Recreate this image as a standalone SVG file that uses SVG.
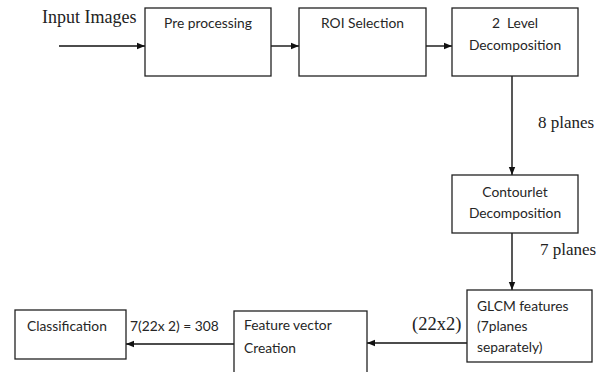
<svg xmlns="http://www.w3.org/2000/svg" width="599" height="372" viewBox="0 0 599 372">
  <defs>
    <marker id="arrow" viewBox="0 0 8 8" refX="8" refY="4" markerWidth="8" markerHeight="8" markerUnits="userSpaceOnUse" orient="auto">
      <path d="M0,0.8 L8,4 L0,7.2 Z" fill="#111"/>
    </marker>
  </defs>
  <style>
    .box { fill: #fff; stroke: #222; stroke-width: 1.3; }
    .lbl { font-family: Lato, "Liberation Sans", sans-serif; font-size: 13.8px; fill: #262626; }
    .mid { text-anchor: middle; }
    .note { font-family: "Liberation Serif", serif; font-size: 17px; fill: #222; }
    .edge { stroke: #111; stroke-width: 1.4; fill: none; marker-end: url(#arrow); }
  </style>
  <rect width="599" height="372" fill="#fff"/>

  <g id="connectors">
    <line class="edge" x1="59" y1="46" x2="145" y2="46"/>
    <line class="edge" x1="271" y1="46" x2="299" y2="46"/>
    <line class="edge" x1="424" y1="46" x2="452" y2="46"/>
    <line class="edge" x1="512" y1="76" x2="512" y2="175"/>
    <line class="edge" x1="512" y1="233" x2="512" y2="290"/>
    <line class="edge" x1="467" y1="343" x2="367" y2="343"/>
    <line class="edge" x1="234" y1="344" x2="126" y2="344"/>
  </g>

  <g id="input-label">
    <text class="note" x="42" y="23" style="font-size:18px">Input Images</text>
  </g>

  <g id="preprocessing">
    <rect class="box" x="145" y="8" width="126" height="68"/>
    <text class="lbl mid" x="208" y="28">Pre processing</text>
  </g>

  <g id="roi-selection">
    <rect class="box" x="299" y="8" width="127" height="68"/>
    <text class="lbl mid" x="362.5" y="28">ROI Selection</text>
  </g>

  <g id="level-decomposition">
    <rect class="box" x="452" y="8" width="126" height="68"/>
    <text class="lbl mid" x="515" y="28" xml:space="preserve">2  Level</text>
    <text class="lbl mid" x="515" y="50">Decomposition</text>
  </g>

  <g id="planes-8">
    <text class="note" x="538" y="128">8 planes</text>
  </g>

  <g id="contourlet">
    <rect class="box" x="452" y="175" width="126" height="58"/>
    <text class="lbl mid" x="515" y="197">Contourlet</text>
    <text class="lbl mid" x="515" y="218">Decomposition</text>
  </g>

  <g id="planes-7">
    <text class="note" x="540" y="255">7 planes</text>
  </g>

  <g id="glcm">
    <rect class="box" x="467" y="290" width="125" height="72"/>
    <text class="lbl" x="477" y="311">GLCM features</text>
    <text class="lbl" x="477" y="331">(7planes</text>
    <text class="lbl" x="477" y="352">separately)</text>
  </g>

  <g id="size-22x2">
    <text class="note" x="412" y="330" style="font-size:18.5px">(22x2)</text>
  </g>

  <g id="feature-vector">
    <rect class="box" x="234" y="311" width="133" height="70"/>
    <text class="lbl" x="244" y="330">Feature vector</text>
    <text class="lbl" x="244" y="353">Creation</text>
  </g>

  <g id="vector-size">
    <text class="lbl" x="130" y="331">7(22x 2) = 308</text>
  </g>

  <g id="classification">
    <rect class="box" x="15" y="310" width="111" height="49"/>
    <text class="lbl" x="27" y="331">Classification</text>
  </g>
</svg>
